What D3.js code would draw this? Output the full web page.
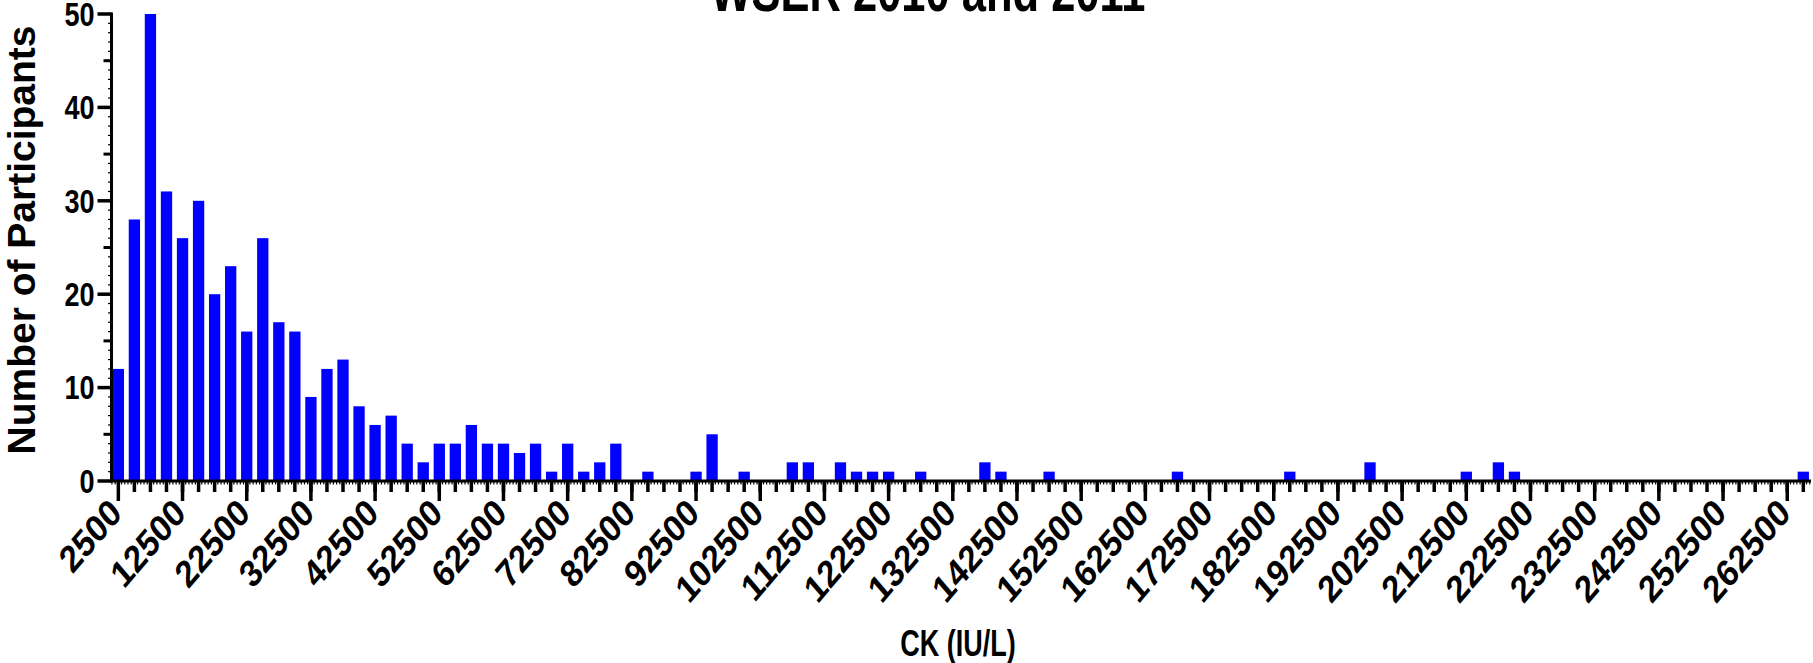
<!DOCTYPE html>
<html>
<head>
<meta charset="utf-8">
<script src="https://cdnjs.cloudflare.com/ajax/libs/d3/7.8.5/d3.min.js"></script>
<style>
  html, body { margin: 0; padding: 0; background: #fff; }
  svg { display: block; font-family: "Liberation Sans", Arial, sans-serif; font-weight: bold; }
</style>
</head>
<body>
<div id="chart"></div>
<script>
// --- データ ---
const chartTitle = "WSER 2010 and 2011";
const xTitle = "CK (IU/L)";
const yTitle = "Number of Participants";

// ビン中心 (CK値) と人数
const ckBins = [2500, 5000, 7500, 10000, 12500, 15000, 17500, 20000, 22500, 25000,
  27500, 30000, 32500, 35000, 37500, 40000, 42500, 45000, 47500, 50000,
  52500, 55000, 57500, 60000, 62500, 65000, 67500, 70000, 72500, 75000,
  77500, 80000, 85000, 92500, 95000, 100000, 107500, 110000, 115000, 117500,
  120000, 122500, 127500, 137500, 140000, 147500, 167500, 185000, 197500, 212500,
  217500, 220000, 265000];
const counts = [12, 28, 50, 31, 26, 30, 20, 23, 16, 26,
  17, 16, 9, 12, 13, 8, 6, 7, 4, 2,
  4, 4, 6, 4, 4, 3, 4, 1, 4, 1,
  2, 4, 1, 1, 5, 1, 2, 2, 2, 1,
  1, 1, 1, 2, 1, 1, 1, 1, 2, 1,
  2, 1, 1];

const xTickLabels = [2500, 12500, 22500, 32500, 42500, 52500, 62500, 72500, 82500, 92500,
  102500, 112500, 122500, 132500, 142500, 152500, 162500, 172500, 182500, 192500,
  202500, 212500, 222500, 232500, 242500, 252500, 262500];
const yTickLabels = [0, 10, 20, 30, 40, 50];

const data = ckBins.map((v, i) => ({ ck: v, n: counts[i] }));

// --- 描画 ---
const W = 1813, H = 663;
const svg = d3.select("#chart").append("svg")
  .attr("width", W).attr("height", H);

const x = d3.scaleLinear().domain([1200, 266200]).range([110, 1811]);
const y = d3.scaleLinear().domain([0, 50]).range([481, 14]);
const barW = 11.3;

// バー
svg.append("g").selectAll("rect")
  .data(data)
  .enter().append("rect")
  .attr("x", d => x(d.ck) - barW / 2)
  .attr("y", d => y(d.n))
  .attr("width", barW)
  .attr("height", d => y(0) - y(d.n))
  .attr("fill", "#0000ff");

// X軸
const xAxis = svg.append("g").attr("transform", `translate(0,${y(0)})`);
// 細かい目盛り (500刻み)
xAxis.selectAll(".tiny")
  .data(d3.range(1500, 266001, 500))
  .enter().append("line")
  .attr("x1", d => x(d)).attr("x2", d => x(d))
  .attr("y1", 0).attr("y2", 3.5)
  .attr("stroke", "#000").attr("stroke-width", 1.2);
xAxis.selectAll(".minor")
  .data(d3.range(5000, 266001, 2500))
  .enter().append("line")
  .attr("x1", d => x(d)).attr("x2", d => x(d))
  .attr("y1", 0).attr("y2", 11)
  .attr("stroke", "#000").attr("stroke-width", 3.5);
xAxis.selectAll(".major")
  .data(xTickLabels)
  .enter().append("line")
  .attr("x1", d => x(d)).attr("x2", d => x(d))
  .attr("y1", 0).attr("y2", 20)
  .attr("stroke", "#000").attr("stroke-width", 3.5);
xAxis.append("line")
  .attr("x1", x.range()[0]).attr("x2", x.range()[1])
  .attr("y1", 0).attr("y2", 0)
  .attr("stroke", "#000").attr("stroke-width", 3);
// 目盛りラベル (元画像は横に少し縮んでいる)
xAxis.selectAll(".lbl")
  .data(xTickLabels)
  .enter().append("text")
  .attr("transform", d => `translate(${x(d) + 5},${34}) scale(0.85,1) rotate(-45)`)
  .attr("text-anchor", "end")
  .attr("font-size", 38)
  .text(d => d);

// Y軸
const yAxis = svg.append("g").attr("transform", `translate(111.5,0)`);
yAxis.selectAll(".tiny")
  .data(d3.range(1, 50, 1))
  .enter().append("line")
  .attr("x1", -3.5).attr("x2", 0)
  .attr("y1", d => y(d)).attr("y2", d => y(d))
  .attr("stroke", "#000").attr("stroke-width", 1.2);
yAxis.selectAll(".minor")
  .data([5, 15, 25, 35, 45])
  .enter().append("line")
  .attr("x1", -8).attr("x2", 0)
  .attr("y1", d => y(d)).attr("y2", d => y(d))
  .attr("stroke", "#000").attr("stroke-width", 3);
yAxis.selectAll(".major")
  .data(yTickLabels)
  .enter().append("line")
  .attr("x1", -14).attr("x2", 0)
  .attr("y1", d => y(d)).attr("y2", d => y(d))
  .attr("stroke", "#000").attr("stroke-width", 3.5);
yAxis.append("line")
  .attr("x1", 0).attr("x2", 0)
  .attr("y1", y(50) - 1.5).attr("y2", y(0))
  .attr("stroke", "#000").attr("stroke-width", 3);
yAxis.selectAll(".lbl")
  .data(yTickLabels)
  .enter().append("text")
  .attr("transform", d => `translate(-17,${y(d)}) scale(0.82,1)`)
  .attr("dy", "0.36em")
  .attr("text-anchor", "end")
  .attr("font-size", 33)
  .text(d => d);

// タイトル類
svg.append("text")
  .attr("transform", "translate(928,11) scale(0.75,1)")
  .attr("text-anchor", "middle")
  .attr("font-size", 58)
  .text(chartTitle);

svg.append("text")
  .attr("transform", "translate(958,656) scale(0.75,1)")
  .attr("text-anchor", "middle")
  .attr("font-size", 36)
  .text(xTitle);

svg.append("text")
  .attr("transform", "translate(35,240) rotate(-90)")
  .attr("text-anchor", "middle")
  .attr("font-size", 39)
  .text(yTitle);
</script>
</body>
</html>
